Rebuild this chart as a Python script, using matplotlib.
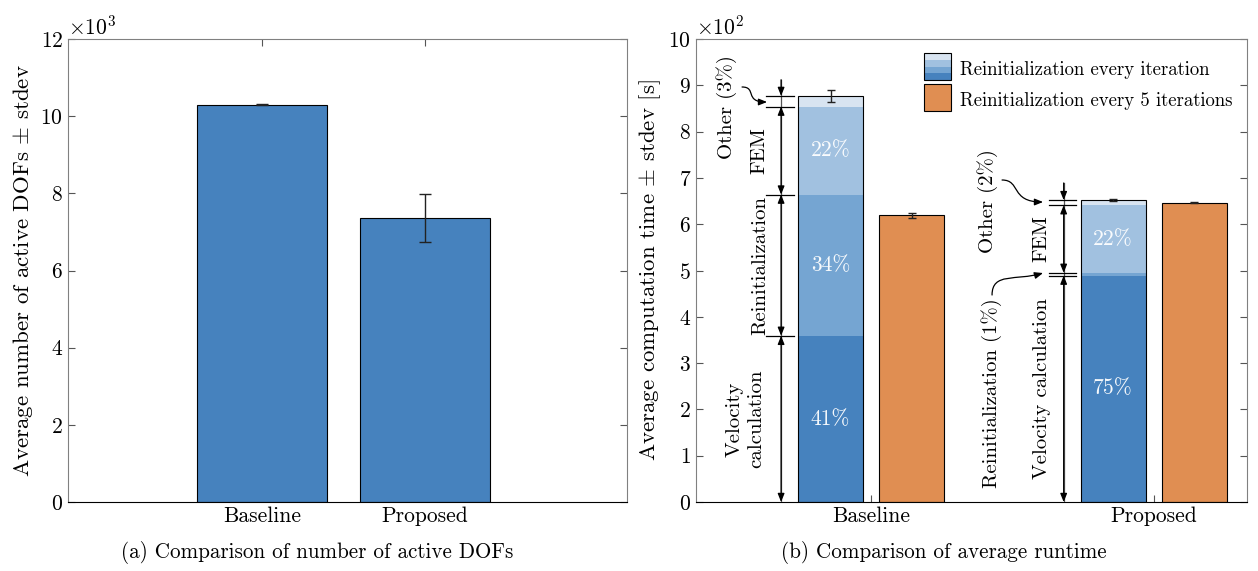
import numpy as np
import matplotlib
matplotlib.use('Agg')
import matplotlib.pyplot as plt
from matplotlib.patches import Rectangle, FancyArrowPatch
from matplotlib.path import Path
from matplotlib.ticker import ScalarFormatter

plt.rcParams['font.family'] = 'serif'
plt.rcParams['font.serif'] = ['cmr10']
plt.rcParams['mathtext.fontset'] = 'cm'
plt.rcParams['axes.unicode_minus'] = False
plt.rcParams['axes.formatter.use_mathtext'] = True

# ---------------- data ----------------
methods = ['Baseline', 'Proposed']

# (a) active DOFs
dofs_mean = [10300, 7350]
dofs_std = [3, 620]

# (b) runtime [s], reinitialization every iteration (stacked)
velocity = [359, 489]
reinit = [305, 6]
fem = [190, 146]
other = [23, 11]
runtime_std = [12, 2]
pct_labels = [['41%', '34%', '22%', ''], ['75%', '', '22%', '']]

# reinitialization every 5 iterations
runtime5 = [619, 646]
runtime5_std = [5, 1]

c_vel = '#4682be'
c_reinit = '#75a5d2'
c_fem = '#a1c1e0'
c_other = '#d8e4f1'
c_orange = '#e08e52'
spine_grey = '#808080'

fs_tick = 15.5
fs_lab = 16.5
fs_ann = 15

fig = plt.figure(figsize=(12.58, 5.71), dpi=100)
ax1 = fig.add_axes([0.054, 0.1208, 0.4444, 0.8109])
ax2 = fig.add_axes([0.5533, 0.1208, 0.438, 0.8109])


def style_axes(ax, power):
    for s in ['left', 'top', 'right']:
        ax.spines[s].set_color(spine_grey)
    ax.spines['bottom'].set_color('black')
    ax.tick_params(direction='in', length=5, color='#555555', labelsize=fs_tick,
                   right=True)
    fmt = ScalarFormatter(useMathText=True)
    fmt.set_powerlimits((power, power))
    ax.yaxis.set_major_formatter(fmt)
    ax.yaxis.get_offset_text().set_fontsize(fs_tick)


# ---------------- (a) ----------------
x1 = np.arange(len(methods))
ax1.bar(x1, dofs_mean, width=0.8, color=c_vel, edgecolor='black', linewidth=0.8,
        zorder=2)
ax1.errorbar(x1, dofs_mean, yerr=dofs_std, fmt='none', ecolor='#222222',
             elinewidth=1, capsize=4, capthick=1, zorder=3)
ax1.set_xlim(-1.19, 2.24)
ax1.set_ylim(0, 12000)
ax1.set_yticks(np.arange(0, 12001, 2000))
ax1.set_xticks(x1)
ax1.set_xticklabels(methods)
style_axes(ax1, 3)
ax1.tick_params(axis='x', top=True)
ax1.set_ylabel(r'Average number of active DOFs $\pm$ stdev', fontsize=fs_lab)

# ---------------- (b) ----------------
x2 = np.arange(len(methods))
off = 0.144
bw = 0.23
segments = [velocity, reinit, fem, other]
seg_colors = [c_vel, c_reinit, c_fem, c_other]
xb = x2 - off
bottom = np.zeros(len(methods))
for k, (seg, col) in enumerate(zip(segments, seg_colors)):
    ax2.bar(xb, seg, width=bw, bottom=bottom, color=col, edgecolor='none',
            zorder=2)
    for i in range(len(methods)):
        if pct_labels[i][k]:
            ax2.text(xb[i], bottom[i] + seg[i] / 2, pct_labels[i][k],
                     ha='center', va='center', color='white', alpha=0.95,
                     fontsize=fs_ann + 0.5, zorder=4)
    bottom = bottom + np.array(seg)
total = bottom
ax2.bar(xb, total, width=bw, fill=False, edgecolor='black', linewidth=0.8,
        zorder=3)
ax2.errorbar(xb, total, yerr=runtime_std, fmt='none', ecolor='#222222',
             elinewidth=1, capsize=3, capthick=1, zorder=4)

ax2.bar(x2 + off, runtime5, width=bw, color=c_orange, edgecolor='black',
        linewidth=0.8, zorder=2)
ax2.errorbar(x2 + off, runtime5, yerr=runtime5_std, fmt='none',
             ecolor='#222222', elinewidth=1, capsize=3, capthick=1, zorder=4)

ax2.set_xlim(-0.62, 1.33)
ax2.set_ylim(0, 1000)
ax2.set_yticks(np.arange(0, 1001, 100))
ax2.set_xticks(x2)
ax2.set_xticklabels(methods)
style_axes(ax2, 2)
ax2.set_ylabel(r'Average computation time $\pm$ stdev [s]', fontsize=fs_lab)

# ---- dimension annotations ----
dim_dx = -0.319
arr_kw = dict(arrowstyle='<|-|>,head_length=0.5,head_width=0.2',
              color='black', lw=0.9, shrinkA=0, shrinkB=0)
one_kw = dict(arrowstyle='-|>,head_length=0.5,head_width=0.2',
              color='black', lw=0.9, shrinkA=0, shrinkB=0)


def px(xp, yp):
    # pixel position in the figure -> data coords of ax2 (for the callouts)
    return (-0.62 + (xp - 696) / 551 * 1.95, (502 - yp) / 463 * 1000)


def dim_line(g, y0, y1, kw):
    ax2.annotate('', xy=(g + dim_dx, y1), xytext=(g + dim_dx, y0),
                 arrowprops=kw, zorder=5)


def tick_line(g, y):
    ax2.plot([g - 0.372, g - 0.275], [y, y], color='black', lw=0.9, zorder=5)


def curly(pts):
    path = Path([px(*q) for q in pts],
                [Path.MOVETO, Path.CURVE4, Path.CURVE4, Path.CURVE4])
    arr = FancyArrowPatch(path=path, arrowstyle='-|>,head_length=0.5,head_width=0.2',
                          mutation_scale=10, color='black', lw=0.9, zorder=5)
    ax2.add_patch(arr)


def vtext(x, y, s):
    ax2.text(x, y, s, rotation=90, ha='center', va='center', fontsize=fs_ann,
             linespacing=1.3, zorder=5)


# Baseline
b = np.cumsum([velocity[0], reinit[0], fem[0], other[0]])
ax2.plot([dim_dx, dim_dx], [0, b[3] + 35], color='#555555', lw=0.9, zorder=4)
dim_line(0, 0, b[0], arr_kw)
dim_line(0, b[0], b[1], arr_kw)
dim_line(0, b[1], b[2], arr_kw)
dim_line(0, b[3] + 35, b[3], one_kw)
for yv in b:
    tick_line(0, yv)
vtext(-0.445, b[0] / 2, 'Velocity\ncalculation')
vtext(-0.392, (b[0] + b[1]) / 2, 'Reinitialization')
vtext(-0.395, (b[1] + b[2]) / 2, 'FEM')
vtext(-0.511, 852, 'Other (3%)')
curly([(742, 87), (757, 87), (744, 102), (767, 102)])

# Proposed
p = np.cumsum([velocity[1], reinit[1], fem[1], other[1]])
ax2.plot([1 + dim_dx, 1 + dim_dx], [0, p[3] + 37], color='#555555', lw=0.9, zorder=4)
dim_line(1, 0, p[0], arr_kw)
dim_line(1, p[1], p[2], arr_kw)
dim_line(1, p[3] + 37, p[3], one_kw)
for yv in p:
    tick_line(1, yv)
vtext(1 - 0.589, 650, 'Other (2%)')
vtext(1 - 0.397, (p[1] + p[2]) / 2, 'FEM')
vtext(1 - 0.397, p[0] / 2, 'Velocity calculation')
vtext(1 - 0.574, 235, 'Reinitialization (1%)')
curly([(1002, 180), (1021, 180), (1010, 202), (1043, 202)])
curly([(992, 295), (992, 272), (1016, 281), (1043, 273)])


# ---- legend ----
class BoxHandler:
    def __init__(self, colors):
        self.colors = colors

    def legend_artist(self, legend, orig_handle, fontsize, handlebox):
        x0, y0 = -handlebox.xdescent, -handlebox.ydescent
        w = handlebox.width
        h = handlebox.height + handlebox.ydescent
        n = len(self.colors)
        tr = handlebox.get_transform()
        for i, c in enumerate(self.colors):
            handlebox.add_artist(Rectangle((x0, y0 + i * h / n), w, h / n, fc=c,
                                           ec='none', transform=tr))
        outline = Rectangle((x0, y0), w, h, fill=False, ec='black', lw=0.8,
                            transform=tr)
        handlebox.add_artist(outline)
        return outline


class StackKey:
    pass


class OrangeKey:
    pass


ax2.legend([StackKey(), OrangeKey()],
           ['Reinitialization every iteration', 'Reinitialization every 5 iterations'],
           handler_map={StackKey: BoxHandler(seg_colors),
                        OrangeKey: BoxHandler([c_orange])},
           loc='upper left', bbox_to_anchor=(0.414, 0.959), frameon=False,
           fontsize=13.5, handlelength=1.44, handleheight=1.44,
           handletextpad=0.48, labelspacing=0.45, borderpad=0, borderaxespad=0)

# ---- captions ----
fig.text(317 / 1258, 1 - 553 / 571, '(a) Comparison of number of active DOFs',
         ha='center', va='center', fontsize=15.2)
fig.text(944 / 1258, 1 - 553 / 571, '(b) Comparison of average runtime',
         ha='center', va='center', fontsize=15.2)

fig.savefig('out.png', dpi=100)
